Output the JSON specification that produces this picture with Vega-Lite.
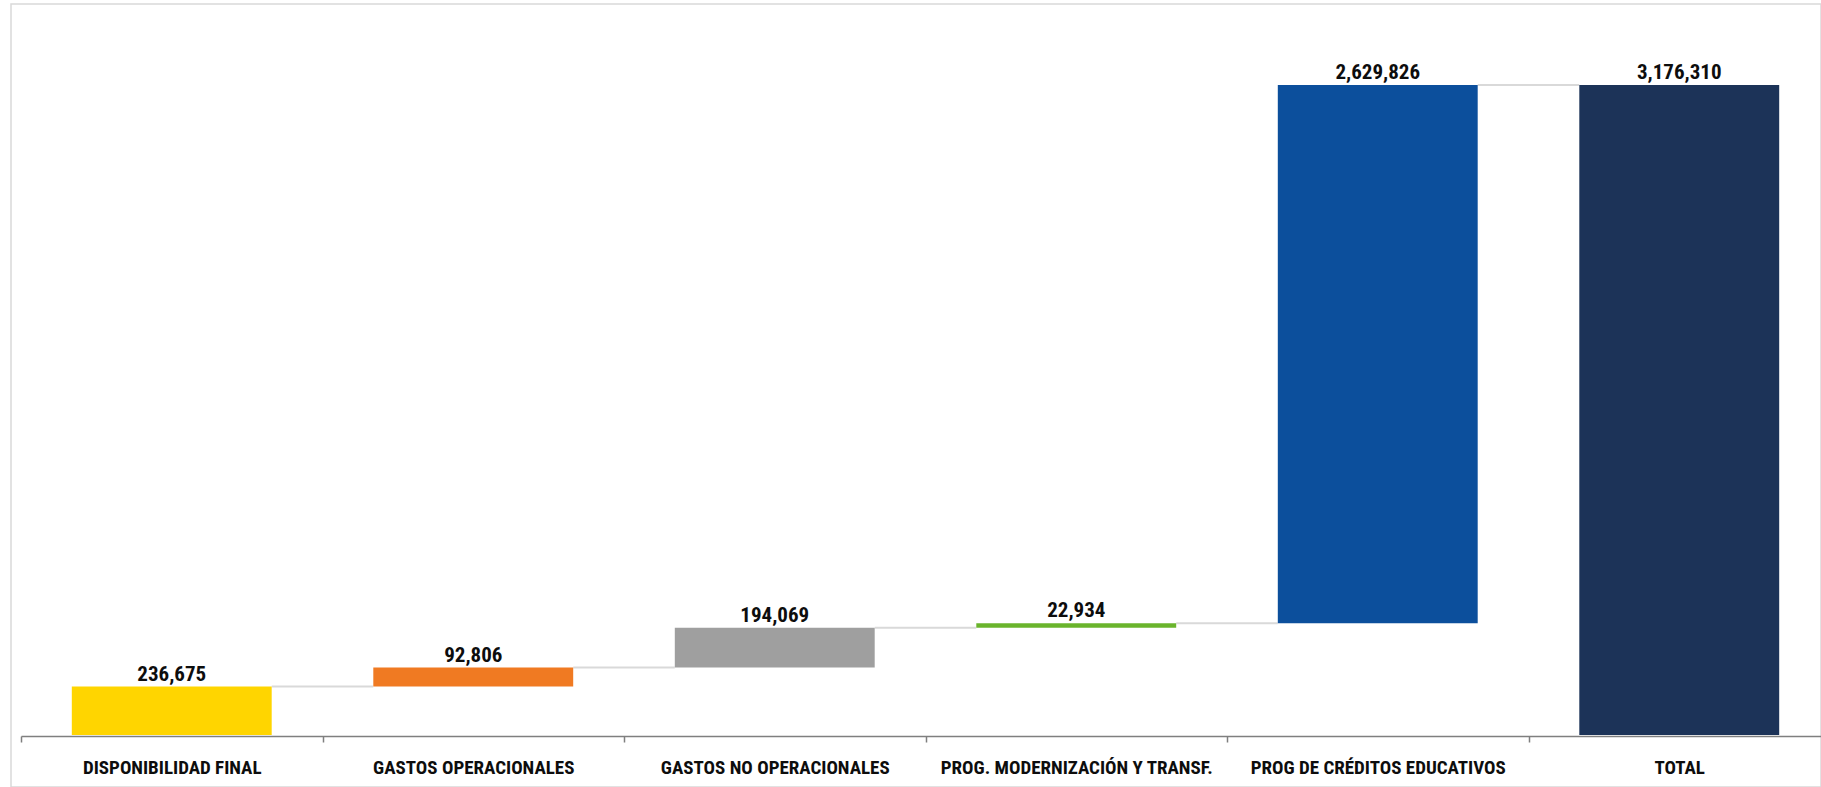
{
  "$schema": "https://vega.github.io/schema/vega-lite/v6.json",
  "width": 1810,
  "height": 783,
  "padding": {"left": 11, "top": 4, "right": 0, "bottom": 0},
  "autosize": {"type": "none"},
  "background": "white",
  "config": {
    "view": {"stroke": "#D9D9D9", "strokeWidth": 1.5},
    "font": "Roboto Condensed, Liberation Sans Narrow, Arial Narrow, Roboto, sans-serif"
  },
  "datasets": {
    "bars": [
      {"cat": "DISPONIBILIDAD FINAL", "start": 0, "end": 236675, "value": 236675},
      {"cat": "GASTOS OPERACIONALES", "start": 236675, "end": 329481, "value": 92806},
      {"cat": "GASTOS NO OPERACIONALES", "start": 329481, "end": 523550, "value": 194069},
      {"cat": "PROG. MODERNIZACIÓN Y TRANSF.", "start": 523550, "end": 546484, "value": 22934},
      {"cat": "PROG DE CRÉDITOS EDUCATIVOS", "start": 546484, "end": 3176310, "value": 2629826},
      {"cat": "TOTAL", "start": 0, "end": 3176310, "value": 3176310}
    ],
    "connectors": [
      {"cat": "DISPONIBILIDAD FINAL", "next": "GASTOS OPERACIONALES", "level": 236675},
      {"cat": "GASTOS OPERACIONALES", "next": "GASTOS NO OPERACIONALES", "level": 329481},
      {"cat": "GASTOS NO OPERACIONALES", "next": "PROG. MODERNIZACIÓN Y TRANSF.", "level": 523550},
      {"cat": "PROG. MODERNIZACIÓN Y TRANSF.", "next": "PROG DE CRÉDITOS EDUCATIVOS", "level": 546484},
      {"cat": "PROG DE CRÉDITOS EDUCATIVOS", "next": "TOTAL", "level": 3176310}
    ]
  },
  "encoding": {
    "x": {
      "field": "cat",
      "type": "nominal",
      "title": null,
      "scale": {
        "domain": ["DISPONIBILIDAD FINAL", "GASTOS OPERACIONALES", "GASTOS NO OPERACIONALES", "PROG. MODERNIZACIÓN Y TRANSF.", "PROG DE CRÉDITOS EDUCATIVOS", "TOTAL"],
        "range": [10, 1819],
        "paddingInner": 0,
        "paddingOuter": 0
      },
      "axis": {
        "orient": "bottom",
        "offset": -51,
        "domainColor": "#7F7F7F",
        "domainWidth": 1.5,
        "tickColor": "#7F7F7F",
        "tickWidth": 1.5,
        "tickSize": 6,
        "tickBand": "extent",
        "grid": false,
        "labelAngle": 0,
        "labelFontSize": 19,
        "labelFontWeight": "bold",
        "labelColor": "#0D0D0D",
        "labelPadding": 16,
        "labelLimit": 400
      }
    }
  },
  "layer": [
    {
      "data": {"name": "connectors"},
      "mark": {"type": "rule", "color": "#D9D9D9", "strokeWidth": 2, "xOffset": 100, "x2Offset": -100},
      "encoding": {
        "x2": {"field": "next"},
        "y": {"field": "level", "type": "quantitative", "axis": null,
              "scale": {"domain": [0, 3176310], "range": [731, 81], "nice": false, "zero": true}}
      }
    },
    {
      "data": {"name": "bars"},
      "mark": {"type": "bar", "width": {"band": 0.663}},
      "encoding": {
        "y": {"field": "start", "type": "quantitative", "axis": null},
        "y2": {"field": "end"},
        "color": {
          "field": "cat",
          "type": "nominal",
          "legend": null,
          "scale": {
            "domain": ["DISPONIBILIDAD FINAL", "GASTOS OPERACIONALES", "GASTOS NO OPERACIONALES", "PROG. MODERNIZACIÓN Y TRANSF.", "PROG DE CRÉDITOS EDUCATIVOS", "TOTAL"],
            "range": ["#FFD500", "#F07A22", "#9F9F9F", "#6AB42C", "#0C4F9C", "#1C3358"]
          }
        }
      }
    },
    {
      "data": {"name": "bars"},
      "mark": {"type": "text", "baseline": "alphabetic", "dy": -6, "fontSize": 21, "fontWeight": "bold", "color": "#0D0D0D"},
      "encoding": {
        "y": {"field": "end", "type": "quantitative", "axis": null},
        "text": {"field": "value", "type": "quantitative", "format": ","}
      }
    }
  ]
}
